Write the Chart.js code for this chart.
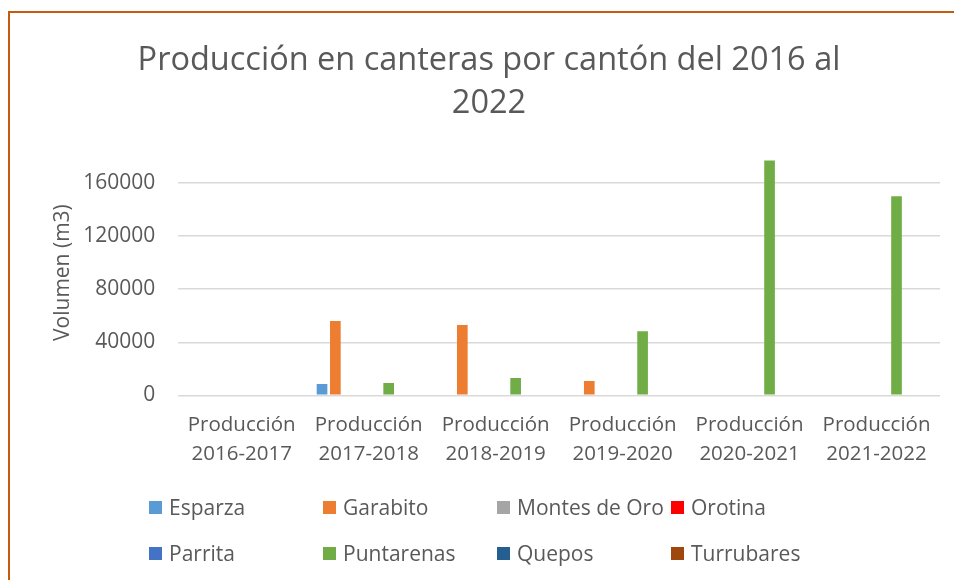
<!DOCTYPE html>
<html lang="es">
<head>
<meta charset="utf-8">
<title>Producción en canteras por cantón</title>
<script src="https://cdn.jsdelivr.net/npm/chart.js@4.4.1/dist/chart.umd.min.js"></script>
<style>
  html, body { margin: 0; padding: 0; background: #fff; }
  body { width: 954px; height: 580px; position: relative; overflow: hidden; font-family: 'Open Sans', sans-serif; }
  #frame { position: absolute; left: 8px; top: 11px; width: 960px; height: 600px; border-left: 2px solid #C55A11; border-top: 2px solid #C55A11; box-sizing: border-box; }
  #wrap { position: absolute; left: 0; top: 0; width: 954px; height: 580px; }
  #legend { position: absolute; left: 149px; top: 494px; display: grid; grid-template-columns: repeat(4, 174px); row-gap: 20px; }
  #legend .item { display: flex; align-items: center; height: 26px; font-size: 21px; color: #595959; white-space: nowrap; }
  #legend .box { width: 13px; height: 13px; margin-right: 7px; flex: none; }
</style>
</head>
<body>
<div id="frame"></div>
<div id="wrap"><canvas id="chart" width="954" height="580"></canvas></div>
<div id="legend"></div>
<script>
(function () {
  'use strict';

  // datos
  const periods = [
    ['Producción', '2016-2017'],
    ['Producción', '2017-2018'],
    ['Producción', '2018-2019'],
    ['Producción', '2019-2020'],
    ['Producción', '2020-2021'],
    ['Producción', '2021-2022'],
  ];
  const cantones = ['Esparza', 'Garabito', 'Montes de Oro', 'Orotina', 'Parrita', 'Puntarenas', 'Quepos', 'Turrubares'];
  const esparza = [0, 8500, 0, 0, 0, 0];
  const garabito = [0, 56000, 53000, 10800, 0, 0];
  const montesDeOro = [0, 0, 0, 0, 0, 0];
  const orotina = [0, 0, 0, 0, 0, 0];
  const parrita = [0, 0, 0, 0, 0, 0];
  const puntarenas = [0, 9300, 13000, 48300, 177000, 150000];
  const quepos = [0, 0, 0, 0, 0, 0];
  const turrubares = [0, 0, 0, 0, 0, 0];
  const yTicks = [0, 40000, 80000, 120000, 160000];

  const seriesValues = [esparza, garabito, montesDeOro, orotina, parrita, puntarenas, quepos, turrubares];
  const colors = ['#5B9BD5', '#ED7D31', '#A5A5A5', '#FF0000', '#4472C4', '#70AD47', '#255E91', '#9E480E'];
  const textColor = '#595959';
  const font = 'Open Sans, Noto Sans, sans-serif';

  const datasets = cantones.map((name, i) => ({
    label: name,
    data: seriesValues[i],
    backgroundColor: colors[i],
    borderWidth: 0,
    categoryPercentage: 0.84,
    barPercentage: 0.8,
  }));

  // leyenda en HTML, cuatro columnas
  const legend = document.getElementById('legend');
  cantones.forEach((name, i) => {
    const item = document.createElement('div');
    item.className = 'item';
    const box = document.createElement('span');
    box.className = 'box';
    box.style.background = colors[i];
    const label = document.createElement('span');
    label.textContent = name;
    item.appendChild(box);
    item.appendChild(label);
    legend.appendChild(item);
  });

  new Chart(document.getElementById('chart'), {
    type: 'bar',
    data: { labels: periods, datasets },
    options: {
      responsive: false,
      animation: false,
      layout: { padding: { left: 38, right: 14, top: 0, bottom: 104 } },
      plugins: {
        legend: { display: false },
        tooltip: { enabled: false },
        title: {
          display: true,
          text: ['Producción en canteras por cantón del 2016 al', '2022'],
          color: textColor,
          font: { family: font, size: 32.5, weight: 'normal', lineHeight: 1.32 },
          padding: { top: 39, bottom: 25 },
        },
      },
      scales: {
        x: {
          grid: { display: false },
          border: { display: false },
          ticks: { color: textColor, font: { family: font, size: 20.5, lineHeight: 1.43 }, padding: 7, maxRotation: 0, autoSkip: false },
        },
        y: {
          min: 0,
          max: 185000,
          afterBuildTicks: (axis) => { axis.ticks = yTicks.map((v) => ({ value: v })); },
          grid: { color: '#D9D9D9', lineWidth: 1.5, drawTicks: false },
          border: { display: false },
          ticks: { color: textColor, font: { family: font, size: 21 }, padding: 23, callback: (v) => String(v) },
          title: {
            display: true,
            text: 'Volumen (m3)',
            color: textColor,
            font: { family: font, size: 21, weight: 'normal' },
            padding: { top: 12, bottom: -15 },
          },
        },
      },
    },
  });
})();
</script>
</body>
</html>
